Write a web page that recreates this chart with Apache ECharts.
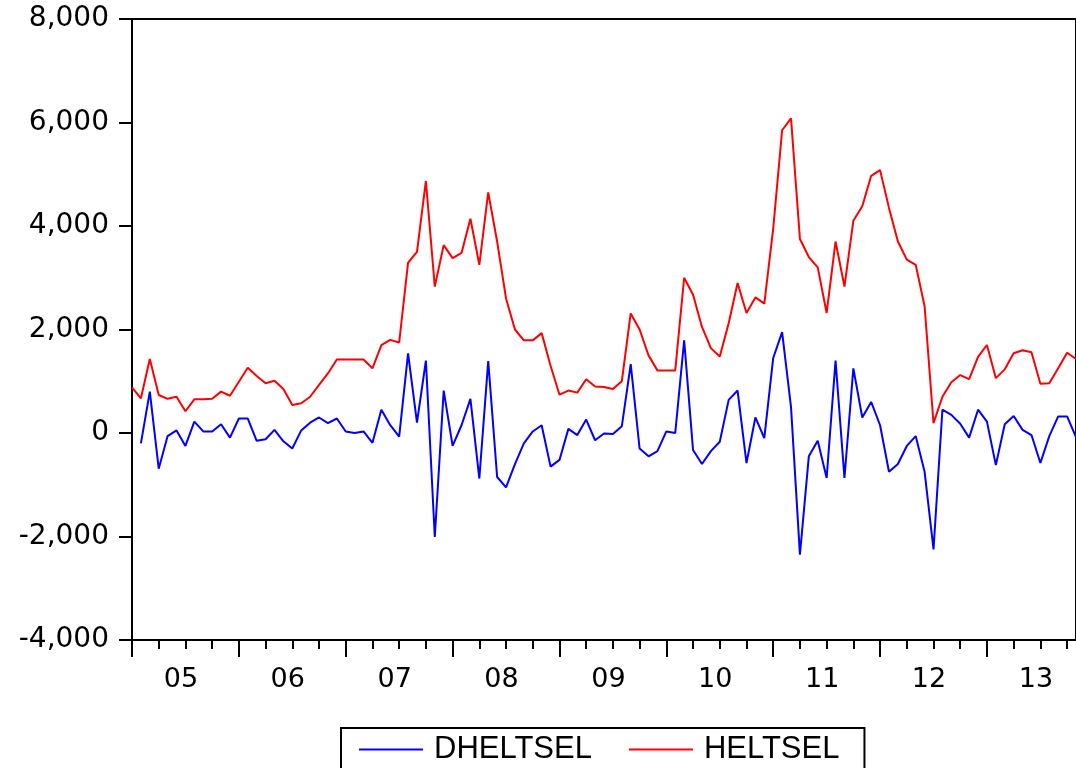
<!DOCTYPE html>
<html>
<head>
<meta charset="utf-8">
<title>HELTSEL</title>
<script src="https://cdn.jsdelivr.net/npm/echarts@6/dist/echarts.min.js"></script>
<style>
  html, body { margin: 0; padding: 0; background: #fff; }
  #chart-container { width: 1076px; height: 768px; }
</style>
</head>
<body>
<div id="chart-container"></div>
<script>
// monthly, 2005M01 .. 2013M11
var months = [];
for (var y = 2005; y <= 2013; y++) {
  for (var m = 1; m <= 12; m++) {
    if (y === 2013 && m > 11) break;
    months.push(y + 'M' + (m < 10 ? '0' + m : m));
  }
}

var heltsel = [
  880, 670, 1430, 735, 660, 700, 420, 650, 650, 660, 800, 720,
  990, 1260, 1100, 960, 1010, 850, 540, 575, 700, 930, 1150, 1420,
  1420, 1420, 1420, 1250, 1700, 1800, 1750, 3290, 3500, 4870, 2830, 3630,
  3380, 3480, 4140, 3250, 4650, 3700, 2600, 2000, 1790, 1790, 1930, 1300,
  740, 820, 780, 1040, 900, 890, 850, 1000, 2310, 2000, 1500, 1210,
  1210, 1210, 3000, 2670, 2050, 1640, 1480, 2120, 2900, 2320, 2620, 2500,
  3950, 5850, 6080, 3750, 3400, 3200, 2320, 3700, 2830, 4100, 4380, 4970,
  5080, 4350, 3700, 3350, 3250, 2450, 190, 700, 980, 1120, 1040, 1470,
  1700, 1060, 1230, 1540, 1600, 1560, 950, 960, 1250, 1550, 1430
];

var dheltsel = [
  '-', -200, 800, -690, -60, 50, -250, 220, 30, 30, 170, -90,
  280, 280, -150, -120, 60, -160, -300, 50, 200, 300, 190, 280,
  30, 0, 30, -190, 450, 150, -70, 1540, 200, 1400, -2010, 820,
  -250, 150, 660, -880, 1390, -850, -1050, -600, -200, 30, 150, -650,
  -520, 80, -40, 260, -140, -10, -20, 130, 1330, -300, -450, -350,
  30, 0, 1790, -330, -600, -350, -170, 640, 820, -580, 300, -100,
  1450, 1950, 500, -2350, -450, -150, -870, 1400, -870, 1250, 300, 600,
  150, -750, -600, -250, -60, -750, -2250, 450, 350, 180, -90, 450,
  220, -620, 170, 330, 60, -40, -580, -60, 320, 320, -80
];

var yTicks = [-4000, -2000, 0, 2000, 4000, 6000, 8000];

var FONT = '"DejaVu Sans", sans-serif';
var LEGEND_FONT = '"Liberation Sans", Arial, sans-serif';

function commaFmt(v) {
  var s = String(Math.abs(v)).replace(/\B(?=(\d{3})+(?!\d))/g, ',');
  return (v < 0 ? '-' : '') + s;
}

var dom = document.getElementById('chart-container');
var myChart = echarts.init(dom, null, { renderer: 'canvas' });

var option = {
  animation: false,
  backgroundColor: '#fff',
  grid: {
    left: 132,
    right: -3,
    top: 19,
    bottom: 128,
    show: true,
    borderColor: '#000',
    borderWidth: 2
  },
  legend: {
    left: 341,
    top: 728,
    padding: [6, 25, 6, 18],
    borderColor: '#000',
    borderWidth: 2,
    backgroundColor: '#fff',
    itemWidth: 64,
    itemHeight: 2,
    itemGap: 37,
    icon: 'rect',
    textStyle: {
      fontFamily: LEGEND_FONT,
      fontSize: 31,
      color: '#000',
      padding: [0, 0, 0, 6]
    },
    data: ['DHELTSEL', 'HELTSEL']
  },
  xAxis: [
    {
      type: 'category',
      data: months,
      boundaryGap: false,
      position: 'bottom',
      axisLine: { onZero: false, lineStyle: { color: '#000', width: 2 } },
      axisTick: {
        length: 17,
        interval: function (i) { return i % 12 === 0; },
        lineStyle: { color: '#000', width: 2 }
      },
      axisLabel: {
        interval: function (i) { return i % 12 === 6; },
        formatter: function (v) { return v.substr(2, 2); },
        margin: 26,
        padding: [0, 9, 0, 0],
        color: '#000',
        fontFamily: FONT,
        fontSize: 27
      },
      splitLine: { show: false }
    },
    {
      // quarter ticks
      type: 'category',
      data: months,
      boundaryGap: false,
      position: 'bottom',
      axisLine: { show: false, onZero: false },
      axisTick: {
        length: 9,
        interval: function (i) { return i % 3 === 0; },
        lineStyle: { color: '#000', width: 2 }
      },
      axisLabel: { show: false },
      splitLine: { show: false }
    }
  ],
  yAxis: {
    type: 'value',
    min: yTicks[0],
    max: yTicks[yTicks.length - 1],
    interval: 2000,
    axisLine: { show: true, lineStyle: { color: '#000', width: 2 } },
    axisTick: { show: true, length: 13, lineStyle: { color: '#000', width: 2 } },
    axisLabel: {
      margin: 23,
      color: '#000',
      fontFamily: FONT,
      fontSize: 28,
      formatter: commaFmt
    },
    splitLine: { show: false }
  },
  series: [
    {
      name: 'DHELTSEL',
      type: 'line',
      data: dheltsel,
      symbol: 'none',
      color: '#0000ff',
      lineStyle: { color: '#0000ff', width: 2 }
    },
    {
      name: 'HELTSEL',
      type: 'line',
      data: heltsel,
      symbol: 'none',
      color: '#ff0000',
      lineStyle: { color: '#ff0000', width: 2 }
    }
  ]
};

myChart.setOption(option);
window.addEventListener('resize', myChart.resize);
</script>
</body>
</html>
